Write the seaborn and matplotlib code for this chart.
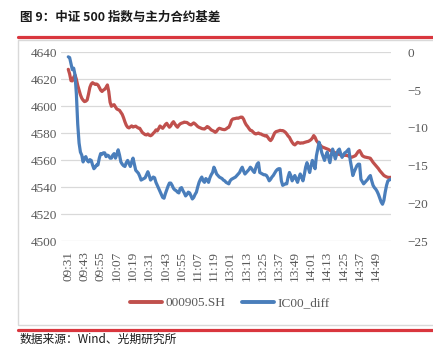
import matplotlib
matplotlib.use("Agg")
import matplotlib.pyplot as plt
import seaborn as sns
import pandas as pd
from matplotlib.lines import Line2D
from matplotlib.patches import Rectangle

# ---------------- data ----------------
tick_labels = ["09:31", "09:43", "09:55", "10:07", "10:19", "10:31", "10:43", "10:55",
               "11:07", "11:19", "13:01", "13:13", "13:25", "13:37", "13:49", "14:01",
               "14:13", "14:25", "14:37", "14:49"]

index_000905 = [
    4627.4, 4624.0, 4619.0, 4618.8, 4621.5, 4623.2, 4620.0, 4615.5, 4612.0, 4608.5, 4606.0, 4604.5,
    4603.5, 4603.8, 4604.7, 4609.0, 4614.0, 4616.5, 4617.5, 4616.8, 4616.2, 4616.5, 4615.8, 4614.0,
    4612.0, 4611.0, 4612.0, 4612.6, 4614.0, 4615.8, 4611.0, 4603.0, 4600.0, 4600.8, 4601.2, 4599.5,
    4598.0, 4597.5, 4597.0, 4595.5, 4594.0, 4591.5, 4588.5, 4586.0, 4584.5, 4584.0, 4584.8, 4585.5,
    4584.6, 4585.0, 4585.3, 4584.5, 4583.9, 4583.7, 4582.0, 4580.5, 4579.8, 4579.0, 4578.8, 4579.5,
    4578.6, 4578.2, 4578.8, 4580.0, 4581.0, 4582.5, 4581.8, 4583.5, 4585.4, 4584.5, 4583.7, 4585.0,
    4586.5, 4587.4, 4585.8, 4584.5, 4585.5, 4587.5, 4588.6, 4587.0, 4585.5, 4584.5, 4586.0, 4587.0,
    4587.5, 4587.8, 4588.3, 4588.1, 4588.0, 4587.2, 4586.5, 4586.2, 4587.0, 4587.7, 4587.0, 4586.0,
    4585.0, 4584.4, 4584.0, 4583.5, 4583.3, 4583.2, 4584.0, 4585.0, 4584.5, 4583.5, 4582.5, 4582.0,
    4581.5, 4580.7, 4581.5, 4583.0, 4583.7, 4583.4, 4583.0, 4582.8, 4582.7, 4583.2, 4584.0, 4584.4,
    4586.5, 4589.5, 4590.6, 4590.8, 4591.0, 4591.3, 4591.1, 4591.6, 4592.0, 4591.9, 4590.5, 4588.0,
    4586.2, 4585.0, 4583.5, 4582.2, 4582.0, 4581.0, 4580.0, 4579.5, 4579.8, 4580.2, 4579.6, 4579.5,
    4578.8, 4578.5, 4578.0, 4578.3, 4577.0, 4575.5, 4574.6, 4575.8, 4578.0, 4580.2, 4581.2, 4581.5,
    4581.8, 4582.2, 4582.0, 4582.0, 4581.5, 4580.7, 4579.5, 4578.0, 4577.0, 4575.0, 4573.3, 4572.0,
    4571.4, 4572.3, 4573.3, 4573.0, 4572.6, 4572.9, 4572.8, 4573.2, 4573.5, 4573.8, 4574.0, 4574.6,
    4575.3, 4576.5, 4578.3, 4577.0, 4574.6, 4573.3, 4572.1, 4571.0, 4570.0, 4569.6, 4569.2, 4568.8,
    4568.4, 4568.0, 4567.3, 4566.8, 4566.4, 4566.0, 4565.5, 4565.0, 4564.7, 4564.3, 4564.0, 4563.6,
    4563.5, 4563.8, 4563.6, 4563.5, 4563.0, 4562.5, 4562.2, 4562.6, 4563.0, 4563.5, 4565.0, 4566.5,
    4567.2, 4565.5, 4563.5, 4562.8, 4562.4, 4562.2, 4562.0, 4561.8, 4561.5, 4560.0, 4558.5, 4557.3,
    4556.2, 4555.0, 4553.8, 4552.3, 4551.1, 4550.0, 4548.8, 4548.2, 4547.7, 4547.4, 4547.3, 4547.4,
]

ic00_diff = [
    -0.6, -0.7, -1.5, -2.3, -2.1, -3.0, -5.5, -9.5, -12.0, -13.2, -13.6, -14.5,
    -14.0, -13.8, -14.3, -14.5, -14.2, -14.3, -14.9, -15.4, -15.2, -14.9, -14.9, -14.0,
    -13.4, -13.5, -13.3, -13.3, -13.8, -13.6, -13.7, -14.0, -14.0, -13.6, -13.4, -14.0,
    -13.5, -12.9, -13.6, -14.5, -14.8, -15.0, -15.1, -14.6, -14.3, -14.7, -15.1, -14.5,
    -14.0, -14.8, -15.6, -15.8, -16.0, -16.4, -16.9, -16.8, -16.7, -16.6, -16.2, -15.8,
    -16.3, -16.9, -16.7, -16.5, -16.6, -17.2, -17.6, -18.0, -18.4, -18.8, -19.2, -19.3,
    -18.7, -18.2, -17.7, -17.3, -17.3, -17.6, -18.0, -18.2, -18.3, -18.5, -18.6, -18.0,
    -17.9, -18.3, -18.6, -19.0, -18.8, -18.5, -18.6, -19.0, -19.4, -19.2, -18.8, -18.5,
    -17.8, -17.2, -16.8, -16.5, -17.0, -17.2, -16.7, -16.9, -17.2, -16.6, -16.2, -15.9,
    -15.2, -15.6, -16.1, -16.3, -16.5, -16.6, -16.7, -16.9, -17.0, -17.2, -17.3, -17.4,
    -17.0, -16.8, -16.7, -16.6, -16.5, -16.3, -16.1, -15.9, -15.5, -15.2, -15.7, -16.1,
    -15.9, -15.7, -15.5, -15.2, -15.4, -15.7, -15.9, -15.3, -14.8, -14.6, -15.9, -16.0,
    -16.1, -16.2, -16.2, -16.3, -16.6, -17.0, -16.8, -16.5, -16.3, -16.0, -15.7, -15.5,
    -15.4, -15.4, -17.0, -17.6, -17.5, -17.4, -17.4, -16.5, -15.9, -16.3, -17.0, -16.6,
    -16.3, -16.8, -17.2, -16.6, -16.1, -16.5, -17.0, -16.2, -15.2, -14.6, -15.3, -15.9,
    -15.0, -14.3, -14.9, -15.4, -13.7, -12.8, -11.9, -12.5, -13.3, -13.8, -14.3, -13.7,
    -13.2, -13.9, -14.6, -13.6, -12.8, -13.4, -14.1, -13.5, -13.0, -12.8, -13.4, -13.9,
    -13.6, -13.3, -13.2, -13.0, -12.8, -14.2, -15.2, -16.3, -15.8, -15.4, -15.0, -14.8,
    -14.8, -16.8, -17.1, -17.4, -17.2, -17.0, -16.8, -16.5, -16.3, -17.0, -17.6, -17.9,
    -18.1, -18.4, -18.8, -19.3, -19.8, -20.1, -19.6, -18.5, -17.6, -17.0, -16.9, -16.8,
]

series_names = ["000905.SH", "IC00_diff"]
left_ticks = [4500, 4520, 4540, 4560, 4580, 4600, 4620, 4640]
right_ticks = [-25, -20, -15, -10, -5, 0]

title_text = "图 9：中证 500 指数与主力合约基差"
source_text = "数据来源：Wind、光期研究所"

# ---------------- styling ----------------
sns.set_theme(style="white")
plt.rcParams["font.family"] = ["Liberation Serif", "Noto Sans CJK SC"]
plt.rcParams["axes.unicode_minus"] = True

RED = "#c0504d"
BLUE = "#4a7ebb"
GRID = "#d9d9d9"
TXT = "#595959"

W, H = 433, 346
fig = plt.figure(figsize=(W / 100, H / 100), dpi=100)

ax_l, ax_r, ax_t, ax_b = 61, 391, 52.3, 241.3
ax = fig.add_axes([ax_l / W, 1 - ax_b / H, (ax_r - ax_l) / W, (ax_b - ax_t) / H])
ax2 = ax.twinx()

n = len(index_000905)
df = pd.DataFrame({"pos": list(range(n)), "idx": index_000905, "diff": ic00_diff})

sns.lineplot(data=df, x="pos", y="idx", ax=ax, color=RED, linewidth=2.3, legend=False)
sns.lineplot(data=df, x="pos", y="diff", ax=ax2, color=BLUE, linewidth=2.3, legend=False)

ax.set_xlim(-5.4, n - 0.7)
ax.set_ylim(4500, 4640)
ax2.set_ylim(-25, 0)
ax.set_yticks(left_ticks)
ax2.set_yticks(right_ticks)
ax.set_xticks([i * 12 for i in range(len(tick_labels))])
ax.set_xticklabels(tick_labels, rotation=90)
ax.set_xlabel("")
ax.set_ylabel("")
ax2.set_ylabel("")

ax.grid(axis="y", color=GRID, linewidth=0.9)
ax.grid(axis="x", visible=False)
ax2.grid(False)
ax.set_axisbelow(True)
for a in (ax, ax2):
    for s in a.spines.values():
        s.set_visible(False)

ax.tick_params(axis="y", length=0, pad=3, labelsize=9.5, labelcolor=TXT)
ax.tick_params(axis="x", length=0, pad=7, labelsize=9.5, labelcolor=TXT)
ax2.tick_params(axis="y", length=0, pad=12, labelsize=9.5, labelcolor=TXT)

# legend
handles = [Line2D([], [], color=RED, lw=2.8), Line2D([], [], color=BLUE, lw=2.8)]
fig.legend(handles, series_names, loc="center", bbox_to_anchor=(230 / W, 1 - 303 / H),
           ncol=2, frameon=False, fontsize=9.5, labelcolor=TXT, handlelength=2.4,
           handletextpad=0.25, columnspacing=1.3)

# chart box and decorations
fig.add_artist(Rectangle((18 / W, 1 - 325 / H), 1.0, (325 - 40) / H, transform=fig.transFigure,
                         fill=False, edgecolor=GRID, linewidth=1.0))
fig.add_artist(Line2D([18 / W, 1.0], [1 - 37.3 / H] * 2, transform=fig.transFigure,
                      color="#d9363e", linewidth=2.3))
fig.add_artist(Line2D([18 / W, 1.0], [1 - 330 / H] * 2, transform=fig.transFigure,
                      color="#d9363e", linewidth=2.3))

fig.text(20 / W, 1 - 17 / H, title_text, ha="left", va="center", fontsize=9, fontweight="bold",
         family=["Noto Sans CJK SC", "DejaVu Sans"], color="#1a1a1a")
fig.text(20 / W, 1 - 345.5 / H, source_text, ha="left", va="bottom", fontsize=8.5,
         family=["Noto Sans CJK SC", "DejaVu Sans"], color="#1a1a1a")

fig.savefig("out.png", dpi=100)
